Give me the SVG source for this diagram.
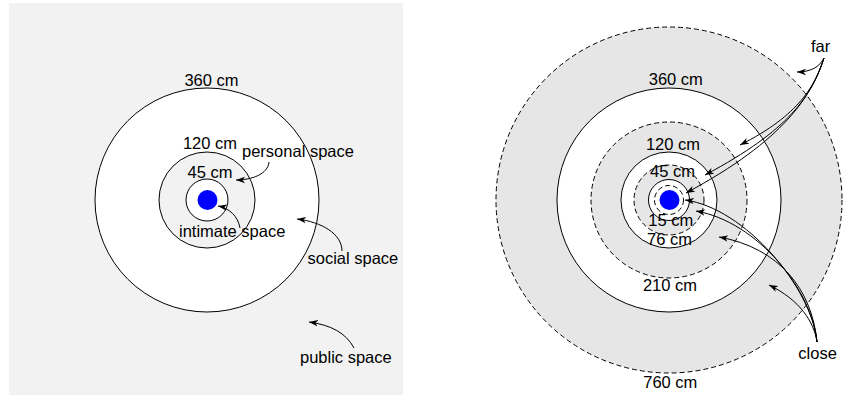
<svg xmlns="http://www.w3.org/2000/svg" width="843" height="395" viewBox="0 0 843 395">
<style>
text{font-family:"Liberation Sans",Arial,sans-serif;font-size:16.5px;fill:#000}
.s{stroke:#000;stroke-width:1}
.d{stroke:#000;stroke-width:1;stroke-dasharray:5,3}
.g1{fill:#f2f2f2}
.g2{fill:#e6e6e6}
.w{fill:#fff}
.dot{fill:#0000ff}
.c{fill:none;stroke:#000;stroke-width:1;marker-end:url(#ah)}
</style>
<defs>
<marker id="ah" markerWidth="10" markerHeight="8" refX="9" refY="4" orient="auto" markerUnits="userSpaceOnUse">
<path d="M0,0.8 L9,4 L0,7.2 L2.5,4 z" fill="#000"/>
</marker>
</defs>
<rect x="9" y="3" width="394" height="392" fill="#f2f2f2"/>
<g id="left-social"><circle cx="207" cy="200" r="112" class="s w"/></g>
<g id="left-personal"><circle cx="207" cy="200" r="48" class="s g1"/></g>
<g id="left-intimate"><circle cx="207" cy="200" r="21" class="s w"/></g>
<g id="left-person"><circle cx="207.5" cy="200" r="10" class="dot"/></g>
<g id="left-labels">
<text x="211.5" y="86" text-anchor="middle">360 cm</text>
<text x="210" y="149" text-anchor="middle">120 cm</text>
<text x="210" y="178" text-anchor="middle">45 cm</text>
<text x="242" y="157">personal space</text>
<text x="179" y="237">intimate space</text>
<text x="307.5" y="264">social space</text>
<text x="300" y="363">public space</text>
</g>
<g id="r-760"><circle cx="669" cy="200" r="173" class="d g2"/></g>
<g id="r-360"><circle cx="669" cy="200" r="112" class="s w"/></g>
<g id="r-210"><circle cx="669" cy="200" r="78" class="d g2"/></g>
<g id="r-120"><circle cx="669" cy="200" r="48" class="s w"/></g>
<g id="r-76"><circle cx="669" cy="200" r="35" class="d g2"/></g>
<g id="r-45"><circle cx="669" cy="200" r="20.5" class="s w"/></g>
<g id="r-15"><circle cx="669" cy="200" r="14.5" class="d w"/></g>
<g id="r-person"><circle cx="669.5" cy="200" r="10" class="dot"/></g>
<g id="right-labels">
<text x="675.8" y="85" text-anchor="middle">360 cm</text>
<text x="673" y="149.7" text-anchor="middle">120 cm</text>
<text x="672.5" y="177.3" text-anchor="middle">45 cm</text>
<text x="670.8" y="225.7" text-anchor="middle">15 cm</text>
<text x="669.5" y="245" text-anchor="middle">76 cm</text>
<text x="670" y="290.7" text-anchor="middle">210 cm</text>
<text x="670.3" y="387.7" text-anchor="middle">760 cm</text>
<text x="811" y="51.7">far</text>
<text x="798.3" y="359.3">close</text>
</g>
<g id="connectors">
<path class="c" d="M269,162 C268,174 252,180 236,180"/>
<path class="c" d="M240,228 C238,216 229,208 218,206"/>
<path class="c" d="M342,251 C342,234 322,222 297,219"/>
<path class="c" d="M354,348 C346,333 331,325 309,322"/>
<path class="c" d="M824,58 C820,66 812,72 797,72"/>
<path class="c" d="M824,58 C815,85 800,115 740,145"/>
<path class="c" d="M824,58 C812,95 790,130 705,175"/>
<path class="c" d="M824,58 C812,95 785,140 686,193"/>
<path class="c" d="M817,342 C814,322 800,300 769,285"/>
<path class="c" d="M817,342 C812,290 780,248 719,237"/>
<path class="c" d="M817,342 C812,290 758,222 696,211"/>
<path class="c" d="M817,342 C812,288 745,208 685,200"/>
</g>
</svg>
